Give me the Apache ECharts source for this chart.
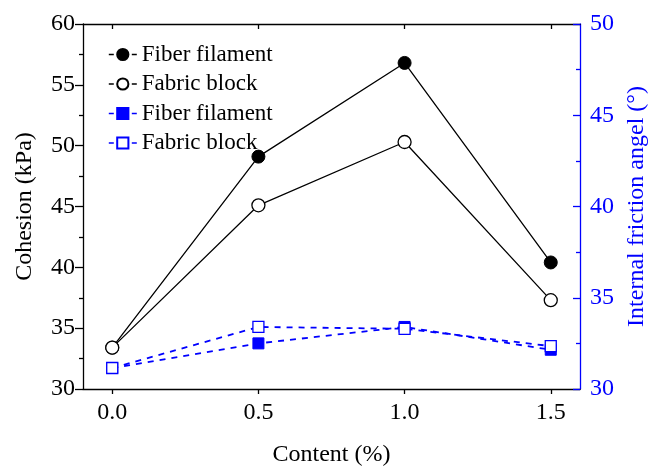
<!DOCTYPE html>
<html><head><meta charset="utf-8">
<script src="https://cdn.jsdelivr.net/npm/echarts@6/dist/echarts.min.js"></script>
<style>html,body{margin:0;padding:0;background:#fff}#c{width:648px;height:468px}</style>
</head><body><div id="c"></div>
<script>
const content = [0, 0.5, 1.0, 1.5];
const xTicks = [0, 0.5, 1.0, 1.5];
const cohesionFiber = [33.4, 49.1, 56.8, 40.4];
const cohesionFabric = [33.4, 45.1, 50.3, 37.3];
const angleFiber = [31.15, 32.5, 33.4, 32.15];
const angleFabric = [31.15, 33.4, 33.3, 32.35];
const names = ['Fiber filament', 'Fabric block', 'Fiber filament ', 'Fabric block '];

const font = 'Liberation Serif';
const blue = '#0000ff';
const pair = (arr) => content.map((x, i) => [x, arr[i]]);

const chart = echarts.init(document.getElementById('c'), null, {renderer: 'canvas'});
chart.setOption({
  animation: false,
  backgroundColor: '#fff',
  grid: {left: 83, right: 68, top: 24, bottom: 79, containLabel: false, outerBoundsMode: 'none'},
  legend: {
    left: 103, top: 38, orient: 'vertical',
    itemWidth: 28, itemHeight: 14, itemGap: 6.5,
    lineStyle: {type: [5, 18], width: 1.6},
    textStyle: {fontFamily: font, fontSize: 23, color: '#000', padding: [0, 0, 0, 0]},
    data: names
  },
  xAxis: [{
    type: 'value', min: -0.1, max: 1.6,
    name: 'Content (%)', nameLocation: 'middle', nameGap: 54,
    nameTextStyle: {fontFamily: font, fontSize: 24, color: '#000'},
    axisLine: {onZero: false, lineStyle: {color: '#000', width: 1.3}},
    axisTick: {show: true, inside: false, length: 5, customValues: xTicks, lineStyle: {color: '#000', width: 1.3}},
    axisLabel: {customValues: xTicks, fontFamily: font, fontSize: 24, color: '#000', margin: 12, formatter: v => v.toFixed(1)},
    splitLine: {show: false}
  }, {
    type: 'value', min: -0.1, max: 1.6, position: 'top',
    axisLine: {onZero: false, lineStyle: {color: '#000', width: 1.3}},
    axisTick: {show: true, inside: true, length: 5, customValues: xTicks, lineStyle: {color: '#000', width: 1.3}},
    axisLabel: {show: false},
    splitLine: {show: false}
  }],
  yAxis: [{
    type: 'value', min: 30, max: 60, interval: 5,
    name: 'Cohesion (kPa)', nameLocation: 'middle', nameGap: 46,
    nameTextStyle: {fontFamily: font, fontSize: 24, color: '#000'},
    axisLine: {show: true, onZero: false, lineStyle: {color: '#000', width: 1.3}},
    axisTick: {show: true, inside: false, length: 8, lineStyle: {color: '#000', width: 1.3}},
    minorTick: {show: true, splitNumber: 2, length: 4, lineStyle: {color: '#000', width: 1.3}},
    axisLabel: {fontFamily: font, fontSize: 24, color: '#000', margin: 8},
    splitLine: {show: false}
  }, {
    type: 'value', min: 30, max: 50, interval: 5, position: 'right',
    name: 'Internal friction angel (°)', nameLocation: 'middle', nameGap: 44, nameRotate: 90,
    nameTextStyle: {fontFamily: font, fontSize: 24, color: blue},
    axisLine: {show: true, onZero: false, lineStyle: {color: blue, width: 1.3}},
    axisTick: {show: true, inside: true, length: 7, lineStyle: {color: blue, width: 1.3}},
    minorTick: {show: true, splitNumber: 2, length: 4, lineStyle: {color: blue, width: 1.3}},
    axisLabel: {fontFamily: font, fontSize: 24, color: blue, margin: 10},
    splitLine: {show: false}
  }],
  series: [{
    name: names[0], type: 'line', xAxisIndex: 0, yAxisIndex: 0,
    data: pair(cohesionFiber), symbol: 'circle', symbolSize: 13,
    lineStyle: {color: '#000', width: 1.3},
    itemStyle: {color: '#000', borderColor: '#000', borderWidth: 1}
  }, {
    name: names[1], type: 'line', xAxisIndex: 0, yAxisIndex: 0,
    data: pair(cohesionFabric), symbol: 'circle', symbolSize: 13,
    lineStyle: {color: '#000', width: 1.3},
    itemStyle: {color: '#fff', borderColor: '#000', borderWidth: 1.3}
  }, {
    name: names[2], type: 'line', xAxisIndex: 0, yAxisIndex: 1,
    data: pair(angleFiber), symbol: 'rect', symbolSize: 11,
    lineStyle: {color: blue, width: 1.8, type: [6, 6]},
    itemStyle: {color: blue, borderColor: blue, borderWidth: 1}
  }, {
    name: names[3], type: 'line', xAxisIndex: 0, yAxisIndex: 1,
    data: pair(angleFabric), symbol: 'rect', symbolSize: 11,
    lineStyle: {color: blue, width: 1.8, type: [6, 6]},
    itemStyle: {color: '#fff', borderColor: blue, borderWidth: 1.3}
  }]
});
</script></body></html>
